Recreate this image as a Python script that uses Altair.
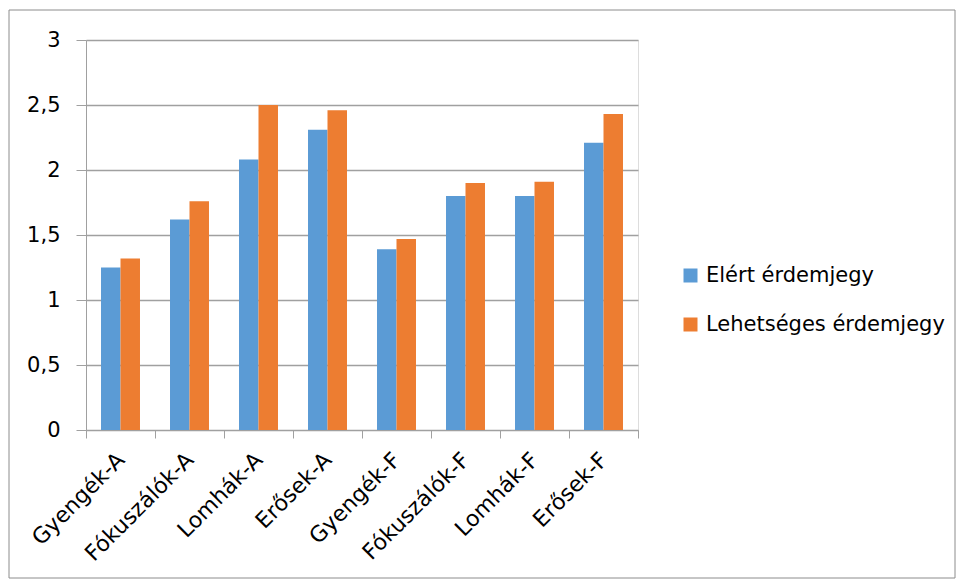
import altair as alt
import pandas as pd

categories = ["Gyengék-A", "Fókuszálók-A", "Lomhák-A", "Erősek-A",
              "Gyengék-F", "Fókuszálók-F", "Lomhák-F", "Erősek-F"]
series_names = ["Elért érdemjegy", "Lehetséges érdemjegy"]
elert = [1.25, 1.62, 2.08, 2.31, 1.39, 1.80, 1.80, 2.21]
lehetseges = [1.32, 1.76, 2.50, 2.46, 1.47, 1.90, 1.91, 2.43]
y_ticks = [0, 0.5, 1, 1.5, 2, 2.5, 3]
colors = ["#5B9BD5", "#ED7D31"]

rows = []
for i, c in enumerate(categories):
    rows.append({"cat": c, "series": series_names[0], "value": elert[i]})
    rows.append({"cat": c, "series": series_names[1], "value": lehetseges[i]})
df = pd.DataFrame(rows)

FONT = "DejaVu Sans"
GRAY = "#A0A0A0"

bars = alt.Chart(df).mark_bar().encode(
    x=alt.X("cat:N", sort=categories, title=None,
            scale=alt.Scale(paddingInner=0, paddingOuter=0),
            axis=alt.Axis(labelAngle=-45, labelAlign="right", labelBaseline="middle",
                          labelFontSize=22, labelFont=FONT, labelColor="#000000",
                          labelPadding=18, tickBand="extent", tickSize=8,
                          tickColor=GRAY, domainColor=GRAY, grid=False,
                          labelLimit=0)),
    xOffset=alt.XOffset("series:N", sort=series_names,
                        scale=alt.Scale(paddingInner=0, paddingOuter=0.77)),
    y=alt.Y("value:Q", title=None,
            scale=alt.Scale(domain=[0, 3], nice=False),
            axis=alt.Axis(values=y_ticks, labelFontSize=21, labelFont=FONT,
                          labelColor="#000000", labelPadding=16, tickSize=10,
                          labelExpr="replace(format(datum.value, ''), '.', ',')",
                          tickColor=GRAY, domainColor=GRAY,
                          gridColor=GRAY, gridWidth=1.4)),
    color=alt.Color("series:N", sort=series_names,
                    scale=alt.Scale(domain=series_names, range=colors),
                    legend=alt.Legend(title=None, orient="none", legendX=594, legendY=225,
                                      symbolType="square", symbolSize=196,
                                      symbolStrokeWidth=0, labelFontSize=21,
                                      labelFont=FONT, labelColor="#000000",
                                      rowPadding=27, labelOffset=5, labelLimit=0)),
)

border = alt.Chart(pd.DataFrame({"a": [0]})).mark_rect(
    fill=None, stroke="#8C8C8C", strokeWidth=1
).encode(
    x=alt.value(-77), x2=alt.value(869),
    y=alt.value(-30), y2=alt.value(538),
)

chart = alt.layer(border, bars).properties(
    width=552, height=390,
    autosize=alt.AutoSizeParams(type="none"),
    padding={"left": 86, "top": 40, "right": 318, "bottom": 150},
).configure_view(stroke=None).configure(background="#ffffff")

chart.save("out.html", embed_options={"renderer": "svg", "actions": False})
